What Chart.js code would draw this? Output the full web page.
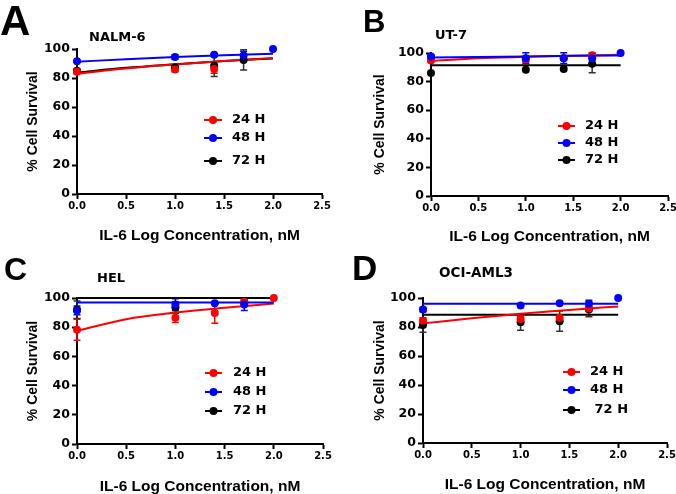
<!DOCTYPE html>
<html>
<head>
<meta charset="utf-8">
<script src="https://cdn.jsdelivr.net/npm/chart.js@4.4.1/dist/chart.umd.min.js"></script>
<style>
  body { margin: 0; background: #fff; }
  #wrap { position: relative; width: 676px; height: 494px; overflow: hidden; background: #fff; }
  #wrap canvas { position: absolute; }
  .letter { position: absolute; font-family: 'Liberation Sans', Arial, sans-serif; font-weight: bold; line-height: 1; color: #000; }
  .name { position: absolute; font-family: 'DejaVu Sans', sans-serif; font-weight: bold; font-size: 13px; line-height: 13px; color: #000; white-space: nowrap; }
</style>
</head>
<body>
<div id="wrap">
  <canvas id="cA" width="338" height="247" style="left:0;top:0"></canvas>
  <canvas id="cB" width="338" height="247" style="left:338px;top:0"></canvas>
  <canvas id="cC" width="338" height="247" style="left:0;top:247px"></canvas>
  <canvas id="cD" width="338" height="247" style="left:338px;top:247px"></canvas>
  <div class="letter" style="left:0;top:0;font-size:42px">A</div>
  <div class="letter" style="left:363px;top:6px;font-size:31px">B</div>
  <div class="letter" style="left:4px;top:253px;font-size:32px">C</div>
  <div class="letter" style="left:352px;top:250px;font-size:35px">D</div>
  <div class="name" style="left:89px;top:30px">NALM-6</div>
  <div class="name" style="left:435px;top:28px">UT-7</div>
  <div class="name" style="left:97px;top:271px">HEL</div>
  <div class="name" style="left:439px;top:266px;font-size:13.5px">OCI-AML3</div>
</div>
<script>
// tick labels
const xTicks = [0, 0.5, 1.0, 1.5, 2.0, 2.5];
const yTicks = [0, 20, 40, 60, 80, 100];
const seriesNames = ['24 H', '48 H', '72 H'];
const fitX = [0, 0.5, 1, 1.5, 2];

// NALM-6
const a24x = [0, 1, 1.4];           const a24y = [84.3, 85.8, 86.2];        const a24e = [1.5, 1.5, 3];
const a48x = [0, 1, 1.4, 1.7, 2];   const a48y = [91.5, 94.5, 96, 95.5, 100]; const a48e = [0.5, 1.5, 0.5, 3, 0];
const a72x = [0, 1, 1.4, 1.7];      const a72y = [85, 87.3, 88.5, 92.5];    const a72e = [1, 1, 7.5, 7];
const a24fit = [83, 86.5, 89.3, 91.8, 93.8];
const a48fit = [91.2, 93, 94.5, 95.7, 96.8];
const a72fit = [83.8, 87, 89.5, 91.8, 93.5];

// UT-7
const b24x = [0, 1, 1.4, 1.7];      const b24y = [94.8, 95.5, 96.5, 98.5];  const b24e = [1, 2, 1.5, 1];
const b48x = [0, 1, 1.4, 1.7, 2];   const b48y = [97.5, 96.4, 96.4, 96.4, 100]; const b48e = [1, 3.8, 3.8, 3.8, 0];
const b72x = [0, 1, 1.4, 1.7];      const b72y = [86, 88.3, 88.8, 92.5];    const b72e = [0, 0, 0, 6.3];
const b24fit = [94.4, 96.3, 97.3, 98.1, 98.7];
const b48fit = [96.8, 97.2, 97.6, 98, 98.3];
const b72fit = [91.4, 91.4, 91.4, 91.4, 91.4];

// HEL
const c24x = [0, 1, 1.4, 1.7, 2];   const c24y = [78.3, 86.5, 89.7, 97.5, 100]; const c24e = [7.2, 3.2, 7, 2, 0];
const c48x = [0, 1, 1.4, 1.7];      const c48y = [91.5, 95.5, 96.4, 95.5];  const c48e = [3, 4, 0.5, 4];
const c72x = [0, 1, 1.7];           const c72y = [92, 93.5, 97];            const c72e = [6, 4, 2];
const c24fit = [77.5, 85.5, 90, 93.3, 96.2];
const c48fit = [97, 97, 97, 97, 97];
const c72fit = [100, 100, 100, 100, 100];

// OCI-AML3
const d24x = [0, 1, 1.4, 1.7];      const d24y = [84.3, 85.5, 86.3, 93];    const d24e = [1, 1.5, 2, 1];
const d48x = [0, 1, 1.4, 1.7, 2];   const d48y = [92, 94.8, 96.4, 96, 100]; const d48e = [1.5, 0.5, 0.5, 2.5, 0];
const d72x = [0, 1, 1.4, 1.7];      const d72y = [81.3, 83.2, 84, 92];      const d72e = [5, 5.5, 7, 5];
const d24fit = [82.5, 86, 89.2, 91.8, 94.2];
const d48fit = [96, 96, 96, 96, 96];
const d72fit = [88.5, 88.5, 88.5, 88.5, 88.5];

const colors = ['#ff0000', '#0000ff', '#000000'];

const errorBars = {
  id: 'errorBars',
  beforeDatasetsDraw(chart) {
    const ctx = chart.ctx;
    const xs = chart.scales.x, ys = chart.scales.y;
    chart.data.datasets.forEach(ds => {
      if (!ds.errors) return;
      ctx.save();
      ctx.strokeStyle = ds.barColor || ds.borderColor;
      ctx.lineWidth = 1.5;
      ds.data.forEach((pt, j) => {
        const e = ds.errors[j];
        if (!e) return;
        const px = xs.getPixelForValue(pt.x);
        const top = ys.getPixelForValue(pt.y + e);
        const bot = ys.getPixelForValue(pt.y - e);
        ctx.beginPath();
        ctx.moveTo(px, top); ctx.lineTo(px, bot);
        ctx.moveTo(px - 3.5, top); ctx.lineTo(px + 3.5, top);
        ctx.moveTo(px - 3.5, bot); ctx.lineTo(px + 3.5, bot);
        ctx.stroke();
      });
      ctx.restore();
    });
  }
};

const panelLegend = {
  id: 'panelLegend',
  afterDraw(chart, args, opts) {
    if (!opts.ys) return;
    const ctx = chart.ctx;
    ctx.save();
    opts.names.forEach((name, i) => {
      const y = opts.ys[i];
      ctx.strokeStyle = colors[i];
      ctx.fillStyle = colors[i];
      ctx.lineWidth = 2;
      ctx.beginPath();
      ctx.moveTo(opts.x0, y); ctx.lineTo(opts.x1, y);
      ctx.stroke();
      ctx.beginPath();
      ctx.arc((opts.x0 + opts.x1) / 2, y, 4, 0, Math.PI * 2);
      ctx.fill();
      ctx.fillStyle = '#000';
      ctx.font = 'bold 13px "DejaVu Sans"';
      ctx.textBaseline = 'middle';
      ctx.fillText(name, opts.tx, y);
    });
    ctx.restore();
  }
};

function pts(xs, ys) {
  return xs.map((x, i) => ({ x: x, y: ys[i] }));
}

function makePanel(id, series, fits, lay, names) {
  const datasets = [];
  series.forEach((s, i) => {
    datasets.push({
      data: pts(s[0], s[1]),
      errors: s[2],
      backgroundColor: colors[i],
      borderColor: colors[i],
      barColor: i === 2 ? '#333' : colors[i],
      pointRadius: 4,
      pointBorderWidth: 0,
      showLine: false,
      clip: false,
      order: [1, 0, 2][i]
    });
  });
  fits.forEach((f, i) => {
    datasets.push({
      data: pts(fitX, f),
      borderColor: colors[i],
      backgroundColor: colors[i],
      borderWidth: 2,
      pointRadius: 0,
      showLine: true,
      cubicInterpolationMode: 'monotone',
      clip: false,
      order: [4, 3, 5][i]
    });
  });

  new Chart(document.getElementById(id), {
    type: 'scatter',
    data: { datasets: datasets },
    plugins: [errorBars, panelLegend],
    options: {
      responsive: false,
      animation: false,
      events: [],
      layout: { padding: { left: 0, top: lay.padTop, right: lay.padRight, bottom: 0 } },
      plugins: {
        legend: { display: false },
        tooltip: { enabled: false },
        panelLegend: { names: names, x0: lay.lg[0], x1: lay.lg[1], tx: lay.lg[2], ys: lay.lgY }
      },
      scales: {
        x: {
          type: 'linear', min: 0, max: 2.5,
          afterBuildTicks: s => { s.ticks = xTicks.map(v => ({ value: v })); },
          afterFit: s => { s.height = lay.xh; s.paddingLeft = 0; s.paddingRight = 0; },
          ticks: {
            callback: v => Number(v).toFixed(1),
            font: { family: 'DejaVu Sans', weight: 'bold', size: 10 },
            color: '#000', padding: 1, maxRotation: 0, autoSkip: false
          },
          grid: { display: true, drawOnChartArea: false, drawTicks: true, tickLength: 5, tickWidth: 2, tickColor: '#000' },
          border: { display: true, color: '#000', width: 2 },
          title: {
            display: true, text: 'IL-6 Log Concentration, nM', color: '#000',
            font: { family: 'Liberation Sans', weight: 'bold', size: 15.5, lineHeight: 1 },
            padding: { top: 0, bottom: lay.xtp }
          }
        },
        y: {
          type: 'linear', min: 0, max: 100,
          afterBuildTicks: s => { s.ticks = yTicks.map(v => ({ value: v })); },
          afterFit: s => { s.width = lay.yw; s.paddingTop = 0; s.paddingBottom = 0; },
          ticks: {
            font: { family: 'DejaVu Sans', weight: 'bold', size: 12.5 },
            color: '#000', padding: 2
          },
          grid: { display: true, drawOnChartArea: false, drawTicks: true, tickLength: 5, tickWidth: 2, tickColor: '#000' },
          border: { display: true, color: '#000', width: 2 },
          title: {
            display: true, text: '% Cell Survival', color: '#000',
            font: { family: 'Liberation Sans', weight: 'bold', size: 14, lineHeight: 1.2 },
            padding: { top: lay.ytp, bottom: 0 }
          }
        }
      }
    }
  });
}

makePanel('cA',
  [[a24x, a24y, a24e], [a48x, a48y, a48e], [a72x, a72y, a72e]],
  [a24fit, a48fit, a72fit],
  { padTop: 49, padRight: 16, yw: 77, xh: 53, ytp: 25, xtp: 4, lg: [204, 222, 232], lgY: [120, 138, 161] },
  seriesNames);

makePanel('cB',
  [[b24x, b24y, b24e], [b48x, b48y, b48e], [b72x, b72y, b72e]],
  [b24fit, b48fit, b72fit],
  { padTop: 53, padRight: 8, yw: 93, xh: 51, ytp: 34, xtp: 3, lg: [220, 237, 247], lgY: [126, 143, 160] },
  seriesNames);

makePanel('cC',
  [[c24x, c24y, c24e], [c48x, c48y, c48e], [c72x, c72y, c72e]],
  [c24fit, c48fit, c72fit],
  { padTop: 51, padRight: 15, yw: 77, xh: 50, ytp: 25, xtp: 0, lg: [205, 222, 233], lgY: [126, 145, 164] },
  seriesNames);

makePanel('cD',
  [[d24x, d24y, d24e], [d48x, d48y, d48e], [d72x, d72y, d72e]],
  [d24fit, d48fit, d72fit],
  { padTop: 51, padRight: 9, yw: 85, xh: 51, ytp: 34, xtp: 2, lg: [225, 242, 252], lgY: [125, 143, 163] },
  ['24 H', '48 H', ' 72 H']);
</script>
</body>
</html>
